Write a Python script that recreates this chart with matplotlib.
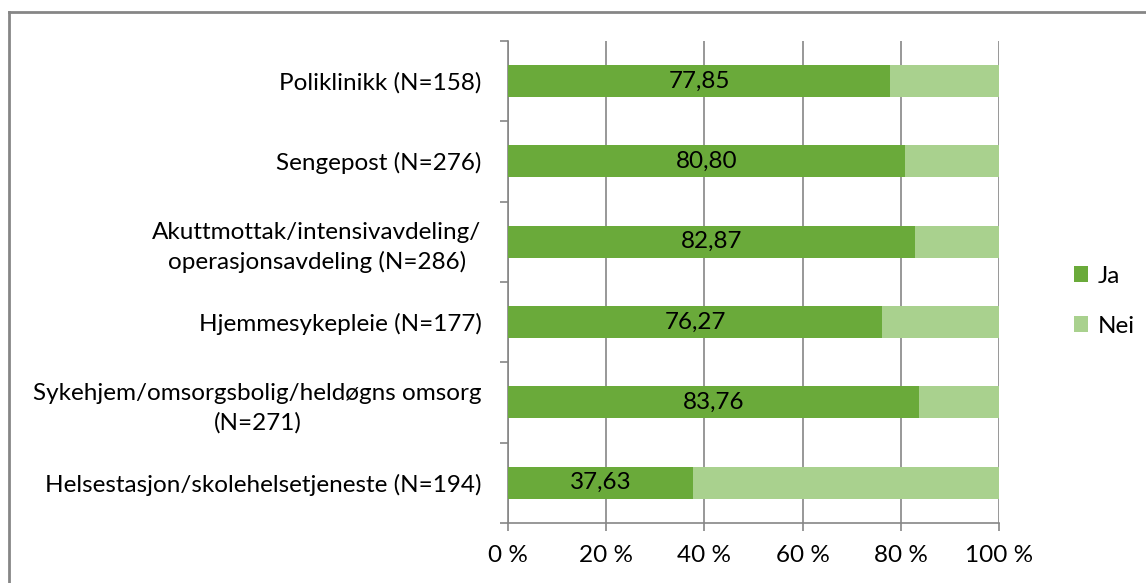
import matplotlib.pyplot as plt
from matplotlib.lines import Line2D
import numpy as np

plt.rcParams['font.family'] = ['Lato', 'DejaVu Sans']

categories = ["Poliklinikk (N=158)",
              "Sengepost (N=276)",
              "Akuttmottak/intensivavdeling/\noperasjonsavdeling (N=286)",
              "Hjemmesykepleie (N=177)",
              "Sykehjem/omsorgsbolig/heldøgns omsorg\n(N=271)",
              "Helsestasjon/skolehelsetjeneste (N=194)"]
ja = np.array([77.85, 80.80, 82.87, 76.27, 83.76, 37.63])
nei = 100 - ja

green = "#6aaa3a"
light = "#a9d18e"
grey = "#868686"
fs = 17.5

fig = plt.figure(figsize=(11.46, 5.83), dpi=100)
ax = fig.add_axes([0.4433, 0.103, 0.4284, 0.827])

y = np.arange(len(categories))
ax.barh(y, ja, height=0.4, color=green, label="Ja", zorder=3)
ax.barh(y, nei, left=ja, height=0.4, color=light, label="Nei", zorder=3)

for i, v in enumerate(ja):
    ax.text(v / 2, i, f"{v:.2f}".replace(".", ","), ha="center", va="center",
            fontsize=fs, zorder=4)

ax.set_ylim(len(categories) - 0.5, -0.5)
ax.set_xlim(0, 100)
ax.set_yticks(y)
ax.set_yticklabels(categories, fontsize=fs)
ax.set_yticks(np.arange(-0.5, len(categories)), minor=True)
ax.tick_params(axis="y", which="major", length=0, pad=19)
ax.tick_params(axis="y", which="minor", length=6, color=grey, width=1.2)
ax.set_xticks(np.arange(0, 101, 20))
ax.set_xticklabels([f"{t} %" for t in range(0, 101, 20)], fontsize=fs)
ax.tick_params(axis="x", length=6, color=grey, width=1.2, pad=10)
for lbl in ax.get_yticklabels():
    lbl.set_multialignment("center")
    lbl.set_linespacing(1.45)

ax.grid(axis="x", color=grey, linewidth=1.2, zorder=0)
for s in ["top", "right"]:
    ax.spines[s].set_visible(False)
for s in ["left", "bottom"]:
    ax.spines[s].set_color(grey)
    ax.spines[s].set_linewidth(1.2)

ax.legend(loc="center left", bbox_to_anchor=(1.108, 0.46), frameon=False,
          fontsize=fs, handlelength=0.6, handleheight=0.6, handletextpad=0.4,
          labelspacing=1.2)

# chart area border
fig.add_artist(Line2D([9/1146, 9/1146], [0, 1 - 12/583], color=grey, lw=2))
fig.add_artist(Line2D([9/1146, 1], [1 - 12/583, 1 - 12/583], color=grey, lw=2))

fig.savefig("out.png", dpi=100)
